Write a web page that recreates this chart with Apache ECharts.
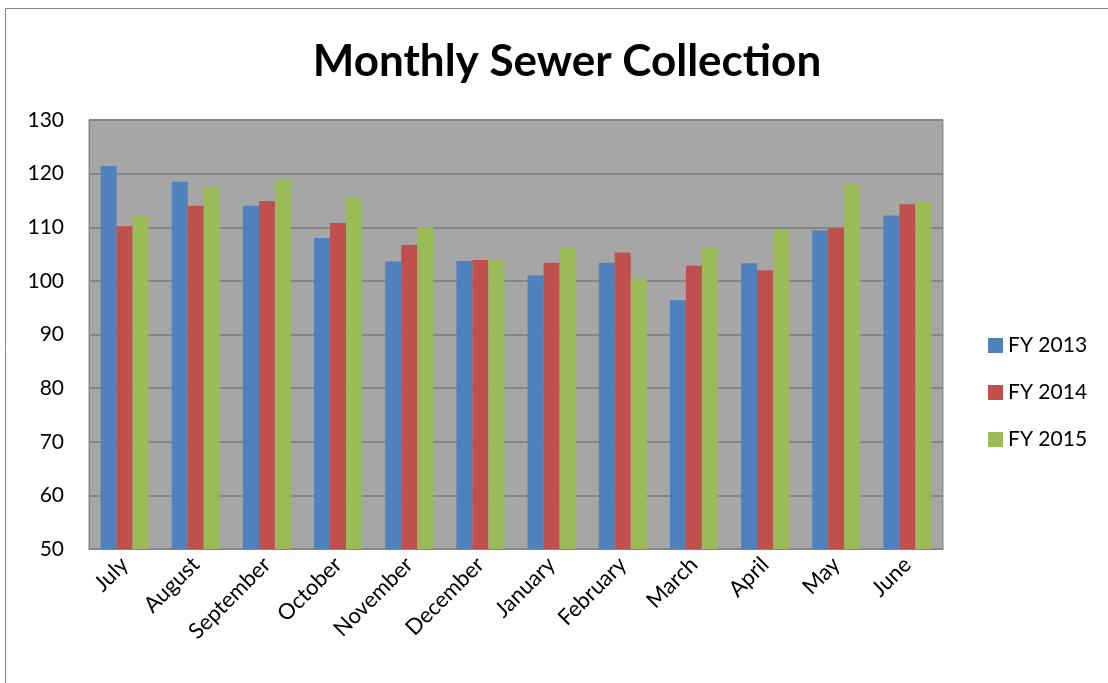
<!DOCTYPE html>
<html>
<head>
<meta charset="utf-8">
<script src="https://cdn.jsdelivr.net/npm/echarts@6/dist/echarts.min.js"></script>
<style>
  html, body { margin: 0; padding: 0; background: #fff; }
  #container { width: 1108px; height: 683px; }
</style>
</head>
<body>
<div id="container"></div>
<script>
// monthly sewer collection
var months = ['July', 'August', 'September', 'October', 'November', 'December',
              'January', 'February', 'March', 'April', 'May', 'June'];
var fy2013 = [121.4, 118.5, 114.0, 108.0, 103.6, 103.7, 101.0, 103.4, 96.4, 103.3, 109.4, 112.2];
var fy2014 = [110.2, 114.0, 114.9, 110.8, 106.7, 103.9, 103.4, 105.3, 102.8, 102.0, 109.8, 114.3];
var fy2015 = [112.2, 117.4, 118.8, 115.5, 110.0, 103.9, 106.3, 100.4, 106.3, 109.5, 118.2, 114.8];

var dom = document.getElementById('container');
var myChart = echarts.init(dom);

var font = 'Lato, "Open Sans", sans-serif';

function bar(name, data, color) {
    return {
        name: name,
        type: 'bar',
        data: data,
        barWidth: 16,
        barGap: 0,
        itemStyle: { color: color }
    };
}

var option = {
    backgroundColor: '#fff',
    animation: false,
    title: {
        text: 'Monthly Sewer Collection',
        left: 562,
        top: 35,
        textAlign: 'center',
        textStyle: { fontFamily: font, fontSize: 44, fontWeight: 'bold', color: '#000' }
    },
    graphic: [{
        type: 'rect',
        shape: { x: 5.5, y: 8.5, width: 1120, height: 700 },
        style: { fill: 'none', stroke: '#868686', lineWidth: 1 }
    }],
    legend: {
        orient: 'vertical',
        left: 983,
        top: 330,
        itemWidth: 15,
        itemHeight: 15,
        itemGap: 26,
        icon: 'rect',
        textStyle: { fontFamily: font, fontSize: 21, color: '#000' },
        data: ['FY 2013', 'FY 2014', 'FY 2015']
    },
    grid: {
        left: 89,
        top: 120,
        width: 854,
        height: 429,
        show: true,
        backgroundColor: '#A6A6A6',
        borderColor: '#868686',
        borderWidth: 1
    },
    xAxis: {
        type: 'category',
        data: months,
        axisLine: { lineStyle: { color: '#868686' } },
        axisTick: { show: false },
        axisLabel: {
            rotate: 45,
            interval: 0,
            margin: 12,
            fontFamily: font,
            fontSize: 22,
            color: '#000'
        }
    },
    yAxis: {
        type: 'value',
        min: 50,
        max: 130,
        interval: 10,
        axisLine: { show: true, lineStyle: { color: '#868686' } },
        axisTick: { show: false },
        splitLine: { lineStyle: { color: '#868686', width: 2 } },
        axisLabel: { fontFamily: font, fontSize: 21, color: '#000', margin: 25 }
    },
    series: [
        bar('FY 2013', fy2013, '#4F81BD'),
        bar('FY 2014', fy2014, '#C0504D'),
        bar('FY 2015', fy2015, '#9BBB59')
    ]
};

myChart.setOption(option);
</script>
</body>
</html>
